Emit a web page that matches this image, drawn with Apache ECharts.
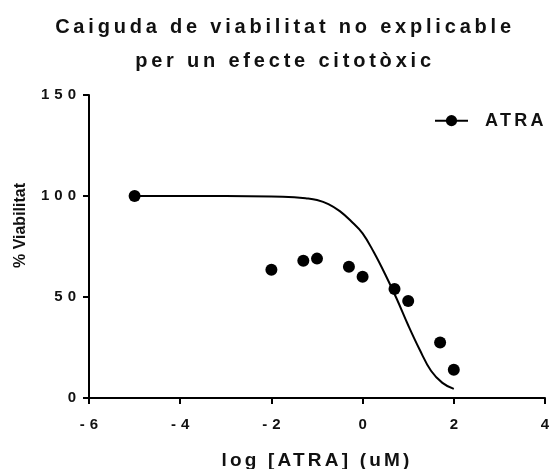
<!DOCTYPE html>
<html>
<head>
<meta charset="utf-8">
<script src="https://cdn.jsdelivr.net/npm/echarts@6/dist/echarts.min.js"></script>
<style>
  html, body { margin: 0; padding: 0; background: #fff; }
  #chart { width: 550px; height: 469px; }
</style>
</head>
<body>
<div id="chart"></div>
<script>
// punts mesurats
const logDose = [-5, -2, -1.3, -1, -0.3, 0, 0.7, 1, 1.7, 2];
const viability = [100, 63.5, 68, 69, 65, 60, 54, 48, 27.5, 14];

// corba ajustada, llegida de la figura
const curveX = [-5, -4, -3, -2, -1.5, -1.25, -1, -0.75, -0.5, -0.25, 0, 0.25, 0.5, 0.75, 1, 1.25, 1.5, 1.75, 2];
const curveY = [100, 100, 100, 99.8, 99.4, 98.9, 98, 96, 92.5, 87.5, 81.5, 72, 61, 49, 36, 24, 13.5, 7.5, 4.5];

const xTicks = [-6, -4, -2, 0, 2, 4];
const yTicks = [0, 50, 100, 150];

// espaiat de lletres segons la mida de la font (el canvas d'ECharts no en té)
const SPACING = { 20: '3.8px', 19: '3.2px', 18: '3.3px', 15: '5px', 16: '0px' };
const proto = CanvasRenderingContext2D.prototype;
['fillText', 'strokeText', 'measureText'].forEach(fn => {
  const orig = proto[fn];
  proto[fn] = function () {
    const m = /(\d+)px/.exec(this.font);
    this.letterSpacing = (m && SPACING[m[1]]) || '0px';
    return orig.apply(this, arguments);
  };
});

const FONT = 'Liberation Sans, Arial, sans-serif';
const chart = echarts.init(document.getElementById('chart'));

chart.setOption({
  animation: false,
  backgroundColor: '#fff',
  title: {
    text: 'Caiguda de viabilitat no explicable\nper un efecte citotòxic',
    left: 285,
    top: 10,
    padding: 0,
    textAlign: 'center',
    textStyle: { fontFamily: FONT, fontWeight: 'bold', fontSize: 20, lineHeight: 34, color: '#111' }
  },
  legend: {
    left: 429,
    top: 105,
    itemWidth: 33,
    itemHeight: 14,
    data: ['ATRA'],
    textStyle: { fontFamily: FONT, fontWeight: 'bold', fontSize: 18, color: '#111', padding: [0, 0, 0, 12] }
  },
  grid: { left: 89, right: 5, top: 95, bottom: 71, outerBoundsMode: 'none' },
  xAxis: {
    type: 'value',
    min: xTicks[0],
    max: xTicks[xTicks.length - 1],
    interval: 2,
    name: 'log [ATRA] (uM)',
    nameLocation: 'middle',
    nameGap: 52,
    nameTextStyle: { fontFamily: FONT, fontWeight: 'bold', fontSize: 19, color: '#111' },
    axisLine: { onZero: false, lineStyle: { color: '#000', width: 2 } },
    axisTick: { length: 6, lineStyle: { color: '#000', width: 2 } },
    axisLabel: { margin: 17, padding: [0, 0, 0, 5], fontFamily: FONT, fontWeight: 'bold', fontSize: 15, color: '#111' },
    splitLine: { show: false }
  },
  yAxis: {
    type: 'value',
    min: yTicks[0],
    max: yTicks[yTicks.length - 1],
    interval: 50,
    name: '% Viabilitat',
    nameLocation: 'middle',
    nameGap: 60,
    nameTextStyle: { fontFamily: FONT, fontWeight: 'bold', fontSize: 16, color: '#111', padding: [0, 0, 0, 42] },
    axisLine: { show: true, onZero: false, lineStyle: { color: '#000', width: 2 } },
    axisTick: { show: true, length: 6, lineStyle: { color: '#000', width: 2 } },
    axisLabel: { margin: 8, fontFamily: FONT, fontWeight: 'bold', fontSize: 15, color: '#111' },
    splitLine: { show: false }
  },
  series: [
    {
      name: 'ATRA',
      type: 'line',
      data: curveX.map((x, i) => [x, curveY[i]]),
      smooth: 0.4,
      symbol: 'circle',
      symbolSize: 12,
      showSymbol: false,
      lineStyle: { color: '#000', width: 2 },
      itemStyle: { color: '#000' },
      silent: true
    },
    {
      name: 'ATRA',
      type: 'scatter',
      data: logDose.map((x, i) => [x, viability[i]]),
      symbol: 'circle',
      symbolSize: 12,
      itemStyle: { color: '#000', opacity: 1 }
    }
  ]
});
</script>
</body>
</html>
